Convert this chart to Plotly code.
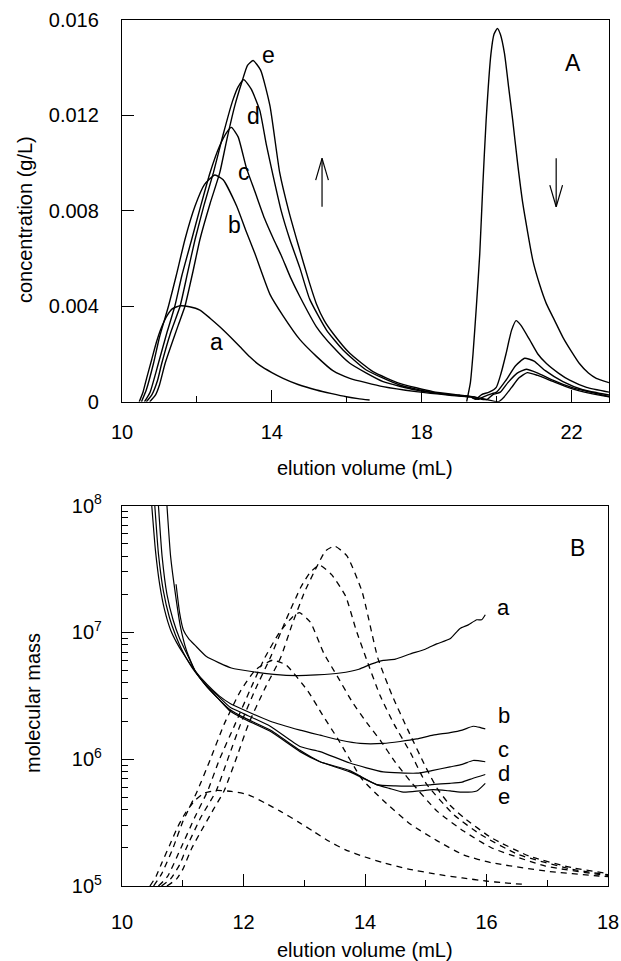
import plotly.graph_objects as go

# ---------------- Panel A data: concentration (g/L) vs elution volume (mL) ----------------
# polymer peak (first) for each sample a-e
vol_a = [10.46, 10.56, 10.66, 10.79, 10.92, 11.05, 11.2, 11.35, 11.55, 11.8, 12.08, 12.35, 12.61, 12.9,
         13.15, 13.41, 13.68, 14.0, 14.3, 14.7, 15.19, 15.6, 15.99, 16.3, 16.61]
conc_a = [0.0, 0.0004, 0.0010, 0.00175, 0.0025, 0.0031, 0.0036, 0.0039, 0.00402, 0.00398, 0.00384, 0.0035,
          0.00314, 0.0027, 0.0023, 0.00188, 0.00152, 0.00122, 0.00098, 0.00072, 0.00049, 0.00034, 0.00021,
          0.00013, 0.00007]
vol_b = [10.52, 10.65, 10.84, 11.0, 11.24, 11.45, 11.68, 11.95, 12.2, 12.48, 12.7, 13.06, 13.3, 13.55, 13.95,
         14.3, 14.75, 15.19, 15.63, 16.08, 16.97, 17.85, 18.75, 19.3]
conc_b = [0.0, 0.0005, 0.0016, 0.0027, 0.0040, 0.0053, 0.0068, 0.0082, 0.0091, 0.0095, 0.0093, 0.0082, 0.0072,
          0.0062, 0.0045, 0.0036, 0.0026, 0.0019, 0.0013, 0.00098, 0.00063, 0.00042, 0.00027, 0.0002]
vol_c = [10.6, 10.75, 10.97, 11.2, 11.41, 11.6, 11.86, 12.1, 12.35, 12.6, 12.8, 12.92, 13.1, 13.32, 13.55,
         13.8, 14.05, 14.26, 14.5, 14.75, 15.19, 15.63, 16.08, 16.97, 17.85, 18.75, 19.3]
conc_c = [0.0, 0.0004, 0.0016, 0.0029, 0.0040, 0.0053, 0.0068, 0.0082, 0.0096, 0.0107, 0.0113, 0.0115, 0.0111,
          0.0098, 0.0088, 0.0077, 0.0068, 0.0061, 0.0052, 0.0044, 0.00314, 0.0023, 0.00161, 0.00084, 0.00049,
          0.00029, 0.0002]
vol_d = [10.65, 10.8, 10.95, 11.06, 11.3, 11.55, 11.75, 11.95, 12.2, 12.44, 12.7, 12.95, 13.1, 13.25, 13.45,
         13.68, 13.85, 14.03, 14.25, 14.48, 14.75, 15.01, 15.46, 15.9, 16.52, 17.41, 18.3, 19.0, 19.4]
conc_d = [0.0, 0.0003, 0.0009, 0.0016, 0.0029, 0.0040, 0.0054, 0.0068, 0.0083, 0.0096, 0.0112, 0.0126, 0.0132,
          0.0135, 0.0131, 0.0122, 0.0108, 0.0095, 0.0080, 0.0068, 0.0056, 0.0043, 0.0030, 0.00217, 0.00133,
          0.0007, 0.00038, 0.00026, 0.0002]
vol_e = [10.74, 10.9, 11.0, 11.15, 11.3, 11.5, 11.68, 11.9, 12.08, 12.35, 12.61, 12.8, 13.01, 13.2, 13.35, 13.5,
         13.7, 13.95, 14.21, 14.45, 14.7, 15.0, 15.19, 15.4, 15.63, 16.08, 16.7, 17.41, 18.3, 19.0, 19.4]
conc_e = [0.0, 0.0003, 0.0007, 0.0016, 0.0023, 0.0032, 0.0040, 0.0055, 0.0068, 0.0083, 0.0096, 0.0110, 0.0124,
          0.0134, 0.0141, 0.0143, 0.0139, 0.0124, 0.0096, 0.0080, 0.0066, 0.0050, 0.0041, 0.0034, 0.00287,
          0.00203, 0.00126, 0.00077, 0.00042, 0.00028, 0.0002]

# small-molecule peak (second) for each sample a-e
vol_a2 = [19.2, 19.3, 19.37, 19.46, 19.55, 19.63, 19.72, 19.85, 19.93, 20.02, 20.1, 20.21, 20.32, 20.43, 20.56,
          20.7, 20.97, 21.15, 21.33, 21.55, 21.77, 22.0, 22.21, 22.45, 22.66, 23.0]
conc_a2 = [0.0, 0.0008, 0.002, 0.0040, 0.0062, 0.0090, 0.0118, 0.0146, 0.0154, 0.01565, 0.0154, 0.0146, 0.0132,
           0.0118, 0.0100, 0.0083, 0.0059, 0.0049, 0.0041, 0.0034, 0.0027, 0.0021, 0.0016, 0.0012, 0.00098, 0.0008]
vol_b2 = [19.45, 19.6, 19.8, 19.99, 20.12, 20.25, 20.4, 20.52, 20.65, 20.88, 21.1, 21.33, 21.65, 21.95, 22.4, 23.0]
conc_b2 = [0.0001, 0.0003, 0.0004, 0.0006, 0.0012, 0.0020, 0.0030, 0.0034, 0.0032, 0.0026, 0.0020, 0.0016,
           0.0012, 0.0009, 0.0006, 0.0004]
vol_c2 = [19.5, 19.65, 19.8, 20.0, 20.25, 20.5, 20.75, 21.0, 21.3, 21.77, 22.3, 23.0]
conc_c2 = [0.0001, 0.0002, 0.0003, 0.0004, 0.0009, 0.0015, 0.00182, 0.0017, 0.0013, 0.00084, 0.0005, 0.00028]
vol_d2 = [19.6, 19.75, 19.9, 20.1, 20.3, 20.55, 20.79, 21.1, 21.5, 22.0, 22.5, 23.0]
conc_d2 = [0.0001, 0.0001, 0.0003, 0.0004, 0.0008, 0.0012, 0.00136, 0.0012, 0.0009, 0.0006, 0.0004, 0.00022]
vol_e2 = [19.7, 20.05, 20.2, 20.4, 20.6, 20.82, 21.1, 21.5, 22.0, 22.5, 23.0]
conc_e2 = [0.0001, 0.0, 0.0002, 0.0006, 0.0010, 0.00122, 0.0011, 0.00085, 0.00055, 0.00035, 0.0002]

# ---------------- Panel B data: log10(molecular mass) vs elution volume (mL) ----------------
mvol_a = [10.89, 10.95, 11.01, 11.1, 11.2, 11.39, 11.6, 11.8, 12.16, 12.5, 12.88, 13.2, 13.59, 13.9, 14.1, 14.3,
          14.5, 14.74, 15.0, 15.18, 15.4, 15.56, 15.7, 15.84, 15.92, 15.98]
logm_a = [7.38, 7.15, 7.02, 6.95, 6.90, 6.81, 6.76, 6.72, 6.69, 6.67, 6.66, 6.665, 6.68, 6.71, 6.75, 6.78, 6.79,
          6.83, 6.87, 6.91, 6.95, 7.03, 7.06, 7.10, 7.10, 7.14]
mvol_b = [10.49, 10.55, 10.62, 10.7, 10.8, 10.9, 11.0, 11.2, 11.4, 11.6, 11.78, 12.0, 12.44, 12.93, 13.26, 13.6,
          13.92, 14.3, 14.58, 14.85, 15.12, 15.4, 15.6, 15.78, 15.9, 15.98]
logm_b = [8.0, 7.65, 7.38, 7.18, 7.02, 6.92, 6.84, 6.70, 6.59, 6.50, 6.44, 6.39, 6.30, 6.23, 6.19, 6.15, 6.125,
          6.125, 6.14, 6.16, 6.19, 6.21, 6.23, 6.26, 6.25, 6.24]
mvol_c = [10.54, 10.6, 10.68, 10.78, 10.88, 11.0, 11.2, 11.4, 11.6, 11.78, 12.0, 12.44, 12.93, 13.26, 13.75,
          14.3, 14.85, 15.1, 15.4, 15.6, 15.78, 15.98]
logm_c = [8.0, 7.62, 7.33, 7.12, 6.98, 6.85, 6.69, 6.58, 6.49, 6.41, 6.36, 6.26, 6.10, 6.06, 5.97, 5.90, 5.89,
          5.91, 5.94, 5.96, 5.99, 5.98]
mvol_d = [10.6, 10.66, 10.74, 10.84, 10.95, 11.06, 11.2, 11.4, 11.6, 11.78, 12.0, 12.44, 12.93, 13.26, 13.75,
          14.19, 14.5, 14.85, 15.1, 15.4, 15.6, 15.78, 15.98]
logm_d = [8.0, 7.6, 7.3, 7.1, 6.95, 6.84, 6.70, 6.57, 6.47, 6.39, 6.33, 6.23, 6.07, 5.98, 5.91, 5.80, 5.79, 5.79,
          5.80, 5.81, 5.82, 5.85, 5.88]
mvol_e = [10.74, 10.8, 10.88, 10.96, 11.06, 11.2, 11.4, 11.6, 11.78, 12.0, 12.44, 12.93, 13.26, 13.75, 14.19,
          14.4, 14.63, 14.9, 15.12, 15.4, 15.62, 15.84, 15.98]
logm_e = [8.0, 7.6, 7.3, 7.05, 6.86, 6.70, 6.57, 6.47, 6.38, 6.32, 6.22, 6.06, 5.98, 5.90, 5.80, 5.77, 5.74,
          5.75, 5.76, 5.75, 5.74, 5.75, 5.81]

sample_names = ["a", "b", "c", "d", "e"]

# label positions (data coords)
labelA_x = [12.52, 12.99, 13.25, 13.50, 13.92]
labelA_y = [0.00251, 0.0074, 0.00964, 0.01198, 0.01453]
labelB_x = [16.28, 16.28, 16.28, 16.28, 16.28]
labelB_logy = [7.20, 6.35, 6.08, 5.895, 5.71]

FONT = "Liberation Sans"
LW = 1.4

fig = go.Figure()

# ---- Panel A traces ----
first = [(vol_a, conc_a), (vol_b, conc_b), (vol_c, conc_c), (vol_d, conc_d), (vol_e, conc_e)]
second = [(vol_a2, conc_a2), (vol_b2, conc_b2), (vol_c2, conc_c2), (vol_d2, conc_d2), (vol_e2, conc_e2)]
for i, name in enumerate(sample_names):
    x1, y1 = first[i]
    x2, y2 = second[i]
    if name == "a":
        xs = x1 + [None] + x2
        ys = y1 + [None] + y2
    else:
        xs = x1 + x2
        ys = y1 + y2
    fig.add_trace(go.Scatter(x=xs, y=ys, mode="lines",
                             line=dict(color="black", width=LW, shape="spline", smoothing=0.5),
                             xaxis="x", yaxis="y", showlegend=False, connectgaps=False, name=name))

# ---- Panel B traces: molecular mass (solid) ----
mass_data = [(mvol_a, logm_a), (mvol_b, logm_b), (mvol_c, logm_c), (mvol_d, logm_d), (mvol_e, logm_e)]
for i, name in enumerate(sample_names):
    mx, ml = mass_data[i]
    fig.add_trace(go.Scatter(x=mx, y=[10 ** v for v in ml], mode="lines",
                             line=dict(color="black", width=1.2, shape="spline", smoothing=0.5),
                             xaxis="x2", yaxis="y2", showlegend=False, name=name))

# ---- Panel B traces: concentration profiles (dashed, overlay linear axis) ----
for i, name in enumerate(sample_names):
    x1, y1 = first[i]
    fig.add_trace(go.Scatter(x=x1, y=y1, mode="lines",
                             line=dict(color="black", width=1.3, dash="6px,5px", shape="spline", smoothing=0.5),
                             xaxis="x2", yaxis="y3", showlegend=False, name=name))

# domains from pixel geometry
W, H = 621, 961
def px_x(p):
    return p / W
def px_y(p):
    return (H - p) / H

axis_common = dict(showline=True, linecolor="black", linewidth=1.3, mirror=True, showgrid=False, zeroline=False,
                   ticks="inside", tickcolor="black", tickwidth=1.2, ticklen=12, automargin=False,
                   ticklabeloverflow="allow",
                   tickfont=dict(family=FONT, size=20, color="black"))

fig.update_layout(
    template="none",
    width=W, height=H,
    margin=dict(l=0, r=0, t=0, b=0, pad=0, autoexpand=False),
    paper_bgcolor="white", plot_bgcolor="white",
    font=dict(family=FONT, color="black"),
    xaxis=dict(domain=[px_x(122), px_x(609)], range=[10, 23], anchor="y",
               tickvals=[10, 14, 18, 22], ticklabelstandoff=12,
               minor=dict(tickvals=[12, 16, 20], ticks="inside", ticklen=6, tickcolor="black", tickwidth=1.2),
               **axis_common),
    yaxis=dict(domain=[px_y(401.7), px_y(20)], range=[0, 0.016], anchor="x",
               tickvals=[0, 0.004, 0.008, 0.012, 0.016], ticktext=["0", "0.004", "0.008", "0.012", "0.016"],
               ticklabelstandoff=18, **axis_common),
    xaxis2=dict(domain=[px_x(122), px_x(608)], range=[10, 18], anchor="y2",
                tickvals=[10, 12, 14, 16, 18], ticklabelstandoff=18,
                minor=dict(tickvals=[11, 13, 15, 17], ticks="inside", ticklen=6, tickcolor="black", tickwidth=1.2),
                **axis_common),
    yaxis2=dict(domain=[px_y(886), px_y(505.7)], type="log", range=[5, 8], anchor="x2",
                tickvals=[1e5, 1e6, 1e7, 1e8],
                ticktext=["10<sup>5</sup>", "10<sup>6</sup>", "10<sup>7</sup>", "10<sup>8</sup>"],
                ticklabelstandoff=15,
                minor=dict(tickvals=[m * 10 ** k for k in (5, 6, 7) for m in range(2, 10)],
                           ticks="inside", ticklen=6, tickcolor="black", tickwidth=1.0),
                **axis_common),
    yaxis3=dict(overlaying="y2", range=[0, 0.016], anchor="x2", visible=False, showgrid=False, zeroline=False,
                automargin=False),
)

ann = []
title_font = dict(family=FONT, size=20, color="black")
ann.append(dict(text="elution volume (mL)", x=px_x(365.5), y=px_y(468), xref="paper", yref="paper",
                showarrow=False, font=title_font, xanchor="center", yanchor="middle"))
ann.append(dict(text="elution volume (mL)", x=px_x(365), y=px_y(950), xref="paper", yref="paper",
                showarrow=False, font=title_font, xanchor="center", yanchor="middle"))
ann.append(dict(text="concentration (g/L)", x=px_x(25), y=px_y(220), xref="paper", yref="paper",
                showarrow=False, font=title_font, textangle=-90, xanchor="center", yanchor="middle"))
ann.append(dict(text="molecular mass", x=px_x(33), y=px_y(703), xref="paper", yref="paper",
                showarrow=False, font=title_font, textangle=-90, xanchor="center", yanchor="middle"))
# panel letters
ann.append(dict(text="A", x=22.03, y=0.01419, xref="x", yref="y", showarrow=False,
                font=dict(family=FONT, size=23, color="black")))
ann.append(dict(text="B", x=17.49, y=7.67, xref="x2", yref="y2", showarrow=False,
                font=dict(family=FONT, size=23, color="black")))
# curve labels
for i, name in enumerate(sample_names):
    ann.append(dict(text=name, x=labelA_x[i], y=labelA_y[i], xref="x", yref="y", showarrow=False,
                    font=dict(family=FONT, size=23, color="black")))
    ann.append(dict(text=name, x=labelB_x[i], y=labelB_logy[i], xref="x2", yref="y2", showarrow=False,
                    font=dict(family=FONT, size=22, color="black"), height=20, valign="middle"))
fig.update_layout(annotations=ann)

# arrows in panel A (up: polymer peak grows a->e; down: small peak shrinks a->e)
arrow_x = [15.34, 21.59]
arrow_lo, arrow_hi = 0.00817, 0.0102
hw, hh = 0.17, 0.00091
shapes = []
line_style = dict(color="black", width=1.2)
shapes.append(dict(type="line", xref="x", yref="y", x0=arrow_x[0], x1=arrow_x[0], y0=arrow_lo, y1=arrow_hi, line=line_style))
shapes.append(dict(type="line", xref="x", yref="y", x0=arrow_x[0] - hw, x1=arrow_x[0], y0=arrow_hi - hh, y1=arrow_hi, line=line_style))
shapes.append(dict(type="line", xref="x", yref="y", x0=arrow_x[0] + hw, x1=arrow_x[0], y0=arrow_hi - hh, y1=arrow_hi, line=line_style))
shapes.append(dict(type="line", xref="x", yref="y", x0=arrow_x[1], x1=arrow_x[1], y0=arrow_hi, y1=arrow_lo, line=line_style))
shapes.append(dict(type="line", xref="x", yref="y", x0=arrow_x[1] - hw, x1=arrow_x[1], y0=arrow_lo + hh, y1=arrow_lo, line=line_style))
shapes.append(dict(type="line", xref="x", yref="y", x0=arrow_x[1] + hw, x1=arrow_x[1], y0=arrow_lo + hh, y1=arrow_lo, line=line_style))
fig.update_layout(shapes=shapes)

fig.write_html("out.html", config={"displayModeBar": False},
               post_script="document.body.style.margin='0px';")
